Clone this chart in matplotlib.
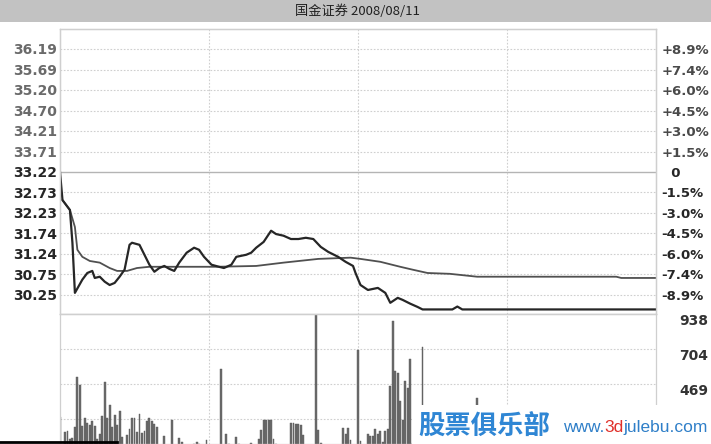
import matplotlib
matplotlib.use("Agg")
import matplotlib.pyplot as plt
from matplotlib.patches import Rectangle
from matplotlib.lines import Line2D

# intraday minute line, 国金证券 2008/08/11 (prev close 33.22)
price_min = [0, 1, 4, 5, 6, 9, 11, 13, 14, 16, 18, 20, 22, 24, 26, 28, 29, 32, 34, 36,
             38, 40, 42, 44, 46, 48, 51, 54, 56, 58, 61, 64, 66, 69, 71, 75, 77, 79, 82, 85,
             87, 90, 93, 96, 99, 102, 105, 108, 112, 115, 118, 119, 121, 124, 128, 131, 133,
             136, 138, 141, 144, 146, 158, 160, 162, 240]
price_val = [33.22, 32.54, 32.30, 31.51, 30.30, 30.62, 30.78, 30.83, 30.66, 30.69,
             30.57, 30.49, 30.54, 30.69, 30.86, 31.46, 31.51, 31.46, 31.22, 30.98,
             30.81, 30.90, 30.95, 30.88, 30.83, 31.03, 31.27, 31.39, 31.34, 31.17,
             30.98, 30.93, 30.90, 30.98, 31.17, 31.22, 31.27, 31.39, 31.53, 31.80,
             31.72, 31.68, 31.60, 31.60, 31.63, 31.60, 31.41, 31.29, 31.17, 31.05,
             30.95, 30.78, 30.49, 30.37, 30.42, 30.30, 30.06, 30.18, 30.13, 30.04,
             29.96, 29.90, 29.90, 29.97, 29.90, 29.90]

avg_min = [1, 4, 6, 7, 9, 12, 16, 20, 23, 27, 31, 36, 50, 63, 79, 90, 104, 117, 121, 129,
           137, 142, 148, 157, 168, 224, 226, 240]
avg_val = [32.54, 32.30, 31.89, 31.34, 31.17, 31.07, 31.03, 30.90, 30.83, 30.83,
           30.90, 30.93, 30.93, 30.93, 30.95, 31.03, 31.12, 31.15, 31.12, 31.05,
           30.93, 30.86, 30.78, 30.76, 30.69, 30.69, 30.66, 30.66]

vol_min = [0, 2, 3, 4, 5, 6, 7, 8, 9, 10, 11, 12, 13, 14, 15, 16, 17, 18, 19, 20,
           21, 22, 23, 24, 25, 27, 28, 29, 30, 31, 32, 33, 34, 35, 36, 37, 38, 39, 42, 45,
           48, 49, 54, 55, 56, 59, 65, 67, 68, 71, 72, 77, 80, 81, 82, 83, 84, 85, 86, 87,
           93, 94, 95, 96, 97, 98, 101, 103, 104, 105, 114, 115, 116, 117, 120, 121, 124, 125,
           126, 127, 128, 129, 130, 131, 132, 133, 134, 135, 136, 137, 138, 139, 140, 141,
           142, 146, 168]
vol_val = [245, 150, 156, 102, 109, 184, 517, 462, 190, 238, 211, 197, 218, 190, 102, 136,
           252, 483, 238, 326, 184, 258, 197, 286, 116, 129, 170, 238, 238, 150, 265, 143,
           156, 218, 238, 224, 204, 184, 122, 231, 109, 82, 68, 82, 68, 95, 571, 136, 68,
           116, 68, 75, 102, 163, 231, 231, 231, 231, 102, 68, 211, 211, 204, 204, 197, 129,
           60, 938, 163, 75, 177, 136, 177, 95, 694, 88, 136, 122, 122, 170, 136, 156, 82,
           156, 170, 456, 891, 558, 544, 354, 231, 490, 442, 639, 75, 714, 374]

price_ticks = [36.19, 35.69, 35.20, 34.70, 34.21, 33.71, 33.22, 32.73, 32.23, 31.74, 31.24, 30.75, 30.25]
pct_labels = ['+8.9%', '+7.4%', '+6.0%', '+4.5%', '+3.0%', '+1.5%', '  0',
              '-1.5%', '-3.0%', '-4.5%', '-6.0%', '-7.4%', '-8.9%']
vol_ticks = [938, 704, 469]
vol_grid = [704, 469, 234]
time_grid = [60, 120, 180]
prev_close = 33.22

W, H = 711, 444
fig = plt.figure(figsize=(W / 100, H / 100), dpi=100)
fig.patch.set_facecolor('white')

# header bar
fig.add_artist(Rectangle((0, 1 - 22 / H), 1, 22 / H, transform=fig.transFigure,
                         facecolor='#c2c2c2', edgecolor='none'))
fig.text(357 / W, 1 - 11.5 / H, '国金证券 2008/08/11', ha='center', va='center',
         fontsize=9.5, color='#202020', family=['Noto Sans CJK SC', 'DejaVu Sans'])

ax = fig.add_axes([60 / W, 1 - 314 / H, 596 / W, 285 / H])
axv = fig.add_axes([60 / W, 0, 596 / W, 130 / H])

grid_kw = dict(color='#cfcfcf', lw=0.8, ls=(0, (1.5, 1.5)), zorder=0)

# price panel
ax.set_xlim(0, 240)
ax.set_ylim(29.79, 36.67)
for p in price_ticks:
    if p == prev_close:
        ax.axhline(p, color='#b4b4b4', lw=1.0, zorder=0)
    else:
        ax.axhline(p, **grid_kw)
for t in time_grid:
    ax.axvline(t, **grid_kw)
ax.plot(avg_min, avg_val, color='#505050', lw=1.3, zorder=2)
ax.plot(price_min, price_val, color='#262626', lw=1.6, zorder=3)

ax.set_xticks([])
ax.set_yticks(price_ticks)
ax.set_yticklabels([f'{p:.2f}' for p in price_ticks])
ax.tick_params(axis='y', length=0, pad=2, labelsize=10)
for lbl, p in zip(ax.get_yticklabels(), price_ticks):
    lbl.set_fontweight('bold')
    lbl.set_color('#6a6a6a' if p > prev_close else '#262626')

ax2 = ax.twinx()
ax2.set_ylim(ax.get_ylim())
ax2.set_yticks(price_ticks)
ax2.set_yticklabels(pct_labels)
ax2.tick_params(axis='y', length=0, pad=4, labelsize=9.5)
for lbl, p in zip(ax2.get_yticklabels(), price_ticks):
    lbl.set_fontweight('bold')
    lbl.set_color('#4a4a4a' if p > prev_close else '#262626')

for a in (ax, ax2):
    for s in a.spines.values():
        s.set_color('#cfcfcf')
        s.set_linewidth(0.9)
ax.spines['bottom'].set_color('#bdbdbd')

# volume panel
axv.set_xlim(0, 240)
axv.set_ylim(67, 938)
for v in vol_grid:
    axv.axhline(v, **grid_kw)
for t in time_grid:
    axv.axvline(t, **grid_kw)
axv.bar(vol_min, vol_val, width=0.75, color='#6b6b6b', edgecolor='#5a5a5a', linewidth=0.3, zorder=2)
axv.set_xticks([])
axv.set_yticks([])
for s in axv.spines.values():
    s.set_color('#cfcfcf')
    s.set_linewidth(0.9)
axv2 = axv.twinx()
axv2.set_ylim(axv.get_ylim())
axv2.set_yticks(vol_ticks)
axv2.set_yticklabels([str(v) for v in vol_ticks])
axv2.tick_params(axis='y', length=0, pad=17, labelsize=10)
for lbl in axv2.get_yticklabels():
    lbl.set_fontweight('bold')
    lbl.set_color('#333333')
    lbl.set_va('top')
for s in axv2.spines.values():
    s.set_visible(False)

# dark strip at bottom-left
fig.add_artist(Line2D([0, 117 / W], [2.5 / H, 2.5 / H], transform=fig.transFigure,
                      color='black', lw=2, zorder=6))

# watermark
fig.add_artist(Rectangle((412 / W, 0), 1 - 412 / W, 39 / H, transform=fig.transFigure,
                         facecolor='white', edgecolor='none', zorder=5))
fig.text(418 / W, 17 / H, '股票俱乐部', ha='left', va='center', fontsize=19,
         fontweight='bold', color='#2f86d4', family=['Noto Sans CJK SC', 'DejaVu Sans'], zorder=7)
r = fig.canvas.get_renderer()
x0 = 563 / W
for part, col in [('www.', '#2f7fc8'), ('3d', '#e0302a'), ('julebu.com', '#2f7fc8')]:
    t = fig.text(x0, 17 / H, part, ha='left', va='center', fontsize=12.5,
                 color=col, family='Liberation Sans', zorder=7)
    bb = t.get_window_extent(renderer=r)
    x0 += bb.width / W

fig.savefig('out.png', dpi=100)
